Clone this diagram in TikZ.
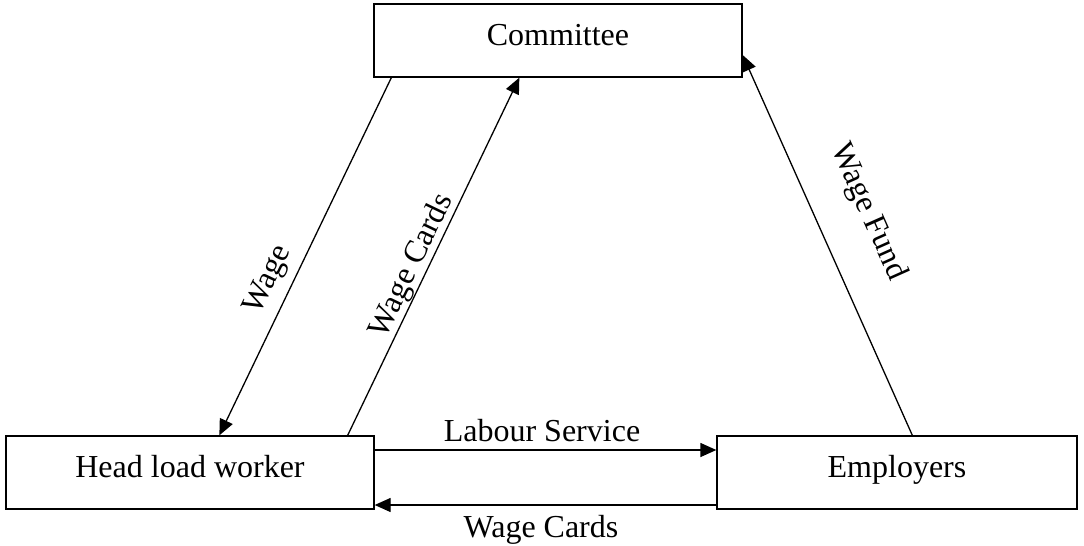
\documentclass[tikz,border=0pt]{standalone}
\usepackage{fontspec}
\setmainfont{Liberation Serif}
\usetikzlibrary{arrows.meta}
\begin{document}
\begin{tikzpicture}[x=1pt,y=-1pt,
  box/.style={draw, line width=1.3pt, minimum height=73pt, inner sep=0pt,
    text height=22pt, text depth=13pt, font=\fontsize{32}{38}\selectfont},
  lbl/.style={font=\fontsize{32}{38}\selectfont, inner sep=0pt},
  conn/.style={line width=1.3pt, -{Triangle[length=16pt,width=14pt]}}]
\useasboundingbox (0,0) rectangle (1084,546);
\node[box, minimum width=368pt] (com) at (558,40.5) {Committee};
\node[box, minimum width=368pt] (hlw) at (190,472.5) {Head load worker};
\node[box, minimum width=360pt] (emp) at (897,472.5) {Employers};
% Wage
\draw[conn] ([xshift=18pt]com.south west) -- ([xshift=214pt]hlw.north west);
% Wage Cards (up)
\draw[conn] ([xshift=-27pt]hlw.north east) -- ([xshift=146pt]com.south west);
% Wage Fund
\draw[conn] ([xshift=196pt]emp.north west) -- (com.east |- 0,55);
% Labour Service
\draw[conn] (hlw.east |- 0,450) -- (emp.west |- 0,450);
% Wage Cards (bottom)
\draw[conn] (emp.west |- 0,505) -- (hlw.east |- 0,505);
\node[lbl, rotate=64.3] (lwage) at (269,280) {Wage};
\node[lbl, rotate=64.3] (lwcards) at (412,266) {Wage Cards};
\node[lbl, rotate=-66] (lwfund) at (868,212) {Wage Fund};
\node[lbl, anchor=base] (llab) at (542,441) {Labour Service};
\node[lbl, anchor=base] (lwc2) at (541,537) {Wage Cards};
\end{tikzpicture}
\end{document}
